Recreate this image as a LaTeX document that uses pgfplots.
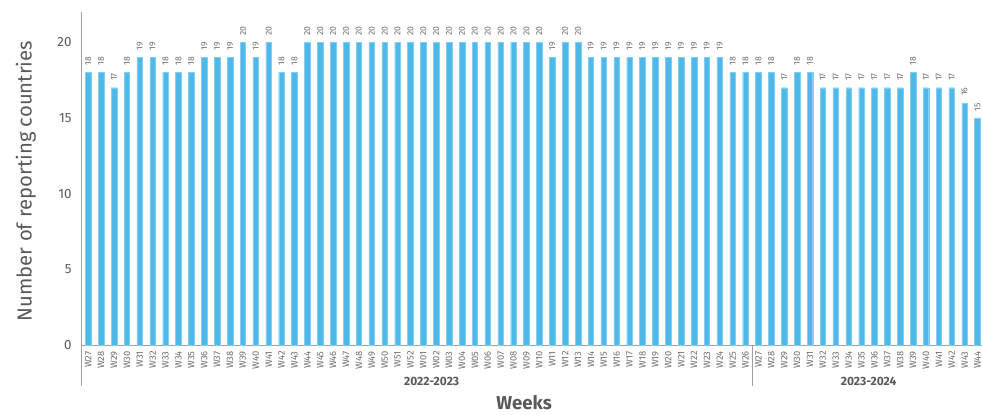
\documentclass[border=0pt]{standalone}
\usepackage{pgfplots}
\usepackage{pgfplotstable}
\pgfplotsset{compat=1.18}
\usepackage{fontspec}
\setmainfont{Fira Sans}

\definecolor{barblue}{RGB}{77,184,233}
\definecolor{txtgray}{RGB}{89,89,89}
\definecolor{lblgray}{RGB}{110,110,110}
\definecolor{axgray}{RGB}{160,160,160}

% reporting countries per week, season 2022-2023 then 2023-2024
\pgfplotstableread{
idx wk  n
0   W27 18
1   W28 18
2   W29 17
3   W30 18
4   W31 19
5   W32 19
6   W33 18
7   W34 18
8   W35 18
9   W36 19
10  W37 19
11  W38 19
12  W39 20
13  W40 19
14  W41 20
15  W42 18
16  W43 18
17  W44 20
18  W45 20
19  W46 20
20  W47 20
21  W48 20
22  W49 20
23  W50 20
24  W51 20
25  W52 20
26  W01 20
27  W02 20
28  W03 20
29  W04 20
30  W05 20
31  W06 20
32  W07 20
33  W08 20
34  W09 20
35  W10 20
36  W11 19
37  W12 20
38  W13 20
39  W14 19
40  W15 19
41  W16 19
42  W17 19
43  W18 19
44  W19 19
45  W20 19
46  W21 19
47  W22 19
48  W23 19
49  W24 19
50  W25 18
51  W26 18
52  W27 18
53  W28 18
54  W29 17
55  W30 18
56  W31 18
57  W32 17
58  W33 17
59  W34 17
60  W35 17
61  W36 17
62  W37 17
63  W38 17
64  W39 18
65  W40 17
66  W41 17
67  W42 17
68  W43 16
69  W44 15
}\weekdata

\begin{document}
\begin{tikzpicture}
\begin{axis}[
    name=ax,
    scale only axis,
    width=675pt,
    height=249.75pt,
    xmin=-0.5, xmax=69.35,
    ymin=0, ymax=22,
    axis lines*=left,
    axis line style={axgray},
    ytick={0,5,10,15,20},
    xtick=data,
    xticklabels from table={\weekdata}{wk},
    major tick length=0pt,
    /pgf/number format/assume math mode=true,
    yticklabel style={font=\fontsize{10}{12}\selectfont, text=txtgray, inner sep=0pt, xshift=-7.5pt},
    xticklabel style={font=\fontsize{7}{8}\selectfont, text=lblgray, rotate=90, anchor=east, inner xsep=4.5pt, inner ysep=0pt},
    ylabel={Number of reporting countries},
    ylabel style={font=\fontsize{15.2}{17}\selectfont, text=txtgray, at={(axis description cs:-0.0556,0.4925)}, anchor=base},
    xlabel={Weeks},
    xlabel style={font=\bfseries\fontsize{14}{16}\selectfont, text=txtgray, at={(axis description cs:0.4914,0)}, anchor=base, inner sep=0pt, yshift=-48.5pt},
    clip=false,
    ybar,
    bar width=4.2pt,
    nodes near coords,
    every node near coord/.append style={font=\fontsize{6.5}{7}\selectfont, text=lblgray, rotate=90, anchor=west, inner xsep=5pt, inner ysep=0pt},
]
\addplot[fill=barblue, draw=barblue!70!white, line width=0.3pt] table[x=idx, y=n] {\weekdata};

% season brackets under the week labels
\draw[axgray] (axis cs:-0.5,0) -- ([yshift=-30.75pt]axis cs:-0.5,0);
\draw[axgray] (axis cs:51.5,0) -- ([yshift=-30.75pt]axis cs:51.5,0);
\node[font=\bfseries\fontsize{9}{11}\selectfont, text=txtgray] at ([yshift=-27.5pt]axis cs:26.65,0) {2022-2023};
\node[font=\bfseries\fontsize{9}{11}\selectfont, text=txtgray] at ([yshift=-27.5pt]axis cs:60.55,0) {2023-2024};
\end{axis}
\pgfresetboundingbox
\useasboundingbox ([shift={(-61.3pt,-51.75pt)}]ax.south west) rectangle ([shift={(0pt,9pt)}]ax.north east);
\end{tikzpicture}
\end{document}
